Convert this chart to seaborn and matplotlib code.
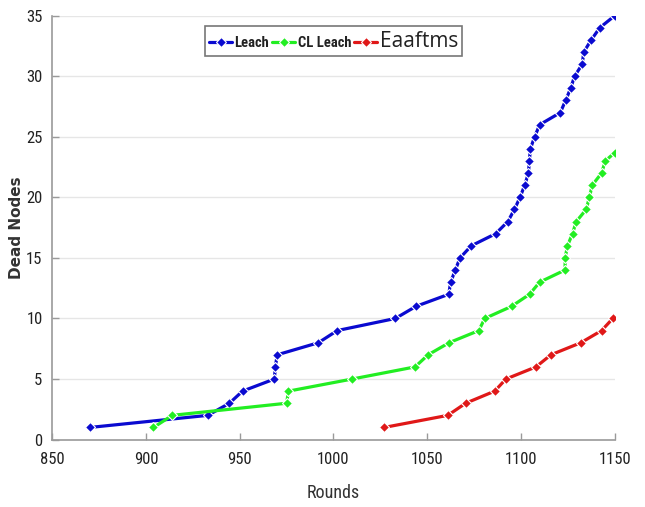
import numpy as np
import pandas as pd
import matplotlib
matplotlib.use("Agg")
import matplotlib.pyplot as plt
import seaborn as sns
from matplotlib import font_manager

# -------------------------------
# DATA
# -------------------------------
leach_rounds = [870, 933, 944.5, 951.5, 968.5, 969, 970, 992, 1002, 1033, 1044,
                1061.5, 1062.5, 1065, 1067.5, 1073.5, 1086.5, 1093, 1096.5, 1099.5,
                1102, 1104, 1104.5, 1105, 1107.3, 1110, 1121, 1123.8, 1126.5,
                1128.6, 1132.7, 1133.5, 1137.5, 1142, 1150]
leach_dead = [1, 2, 3, 4, 5, 6, 7, 8, 9, 10, 11, 12, 13, 14, 15, 16, 17, 18, 19, 20,
              21, 22, 23, 24, 25, 26, 27, 28, 29, 30, 31, 32, 33, 34, 35]

cl_rounds = [904, 914, 975, 976, 1010, 1043.5, 1050.5, 1061.7, 1077.5, 1080.7,
             1095, 1104.6, 1110, 1123.5, 1123.6, 1124.8, 1127.5, 1129.5, 1134.8,
             1136.5, 1138, 1143, 1145, 1150]
cl_dead = [1, 2, 3, 4, 5, 6, 7, 8, 9, 10, 11, 12, 13, 14, 15, 16, 17, 18, 19, 20,
           21, 22, 23, 23.7]

eaaftms_rounds = [1027, 1061, 1070.5, 1086, 1092, 1108, 1116, 1132, 1143, 1149]
eaaftms_dead = [1, 2, 3, 4, 5, 6, 7, 8, 9, 10]

series_names = ["Leach", "CL Leach", "Eaaftms"]
colors = {"Leach": "#0a0ad0", "CL Leach": "#22ee22", "Eaaftms": "#e01818"}

df = pd.concat([
    pd.DataFrame({"Rounds": leach_rounds, "Dead": leach_dead, "Algo": "Leach"}),
    pd.DataFrame({"Rounds": cl_rounds, "Dead": cl_dead, "Algo": "CL Leach"}),
    pd.DataFrame({"Rounds": eaaftms_rounds, "Dead": eaaftms_dead, "Algo": "Eaaftms"}),
], ignore_index=True)

# -------------------------------
# STYLE
# -------------------------------
sns.set_theme(style="white")
installed = {f.name for f in font_manager.fontManager.ttflist}
narrow = "Liberation Sans"
for cand in ["Liberation Sans Narrow", "DejaVu Sans Condensed", "Roboto Condensed"]:
    if cand in installed:
        narrow = cand
        break
plt.rcParams["font.family"] = [narrow, "DejaVu Sans"]
tick_size = 12 if narrow != "Liberation Sans" else 11.5

fig = plt.figure(figsize=(6.45, 5.07), dpi=100)
ax = fig.add_axes([0.081, 0.133, 0.872, 0.836])

sns.lineplot(data=df, x="Rounds", y="Dead", hue="Algo", hue_order=series_names,
             palette=colors, style="Algo", markers={n: "D" for n in series_names},
             dashes=False, sort=False, estimator=None, linewidth=2.3,
             markersize=5.5, markeredgewidth=0.8, ax=ax)

ax.set_xlim(850, 1150)
ax.set_ylim(0, 35)
ax.set_xticks(np.arange(850, 1151, 50))
ax.set_yticks(np.arange(0, 36, 5))
ax.yaxis.grid(True, color="#e6e6e6", linewidth=1)
ax.xaxis.grid(False)
for side in ["top", "right"]:
    ax.spines[side].set_visible(False)
for side in ["left", "bottom"]:
    ax.spines[side].set_color("#9a9a9a")
    ax.spines[side].set_linewidth(1.2)
ax.tick_params(direction="in", length=5, width=1, color="#9a9a9a",
               labelsize=tick_size, labelcolor="#222222", left=True, bottom=True)
ax.tick_params(axis="x", pad=9)
ax.tick_params(axis="y", pad=7)

ax.set_xlabel("Rounds", fontsize=13, color="#333333", labelpad=12)
ax.set_ylabel("Dead Nodes", fontsize=11, fontweight="bold", color="#333333",
              family="DejaVu Sans")
ax.yaxis.set_label_coords(-0.05, 0.5)

handles, labels = ax.get_legend_handles_labels()
leg = ax.legend(handles, labels, loc="upper center", bbox_to_anchor=(0.5, 0.975),
                borderaxespad=0, ncol=3, frameon=True, fancybox=False,
                handlelength=1.6, handletextpad=0.15, columnspacing=0.2,
                borderpad=0.3,
                prop={"family": narrow, "weight": "bold", "size": 10.5})
leg.get_frame().set_edgecolor("#555555")
leg.get_frame().set_linewidth(1.2)
for t in leg.get_texts():
    if t.get_text() == "Eaaftms":
        t.set_fontsize(15)
        t.set_fontweight("normal")
        t.set_family(["Open Sans", "DejaVu Sans"])
    t.set_color("#222222")

fig.savefig("out.png", dpi=100)
